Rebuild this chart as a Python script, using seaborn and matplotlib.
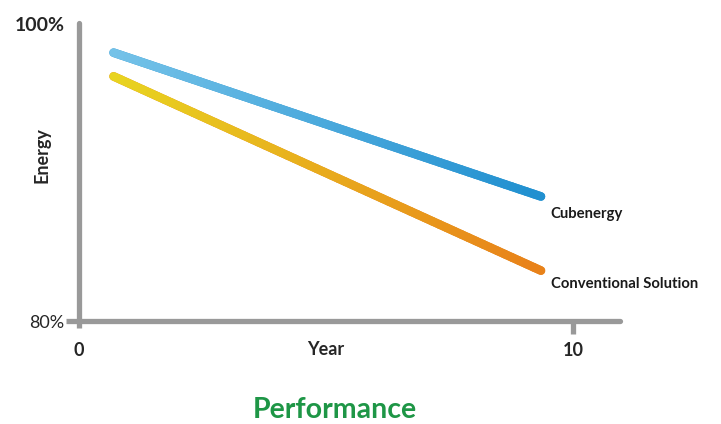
import matplotlib
matplotlib.use('Agg')
import matplotlib.pyplot as plt
import seaborn as sns
import numpy as np
import pandas as pd
from matplotlib.collections import LineCollection
from matplotlib.colors import LinearSegmentedColormap

sns.set_style('white')
plt.rcParams['font.family'] = ['Lato', 'DejaVu Sans']

# data
years = [0.7, 9.35]
cubenergy = [98.1, 88.4]
conventional = [96.5, 83.4]
series_names = ['Cubenergy', 'Conventional Solution']
label_pos = [(9.55, 87.2), (9.55, 82.5)]
x_ticks = [0, 10]
y_ticks = [80, 100]
y_tick_labels = ['80%', '100%']

grad_colors = [('#74c2e8', '#2190d0'), ('#e8d420', '#e8821a')]
axis_grey = '#999999'
line_w = 6.2

df = pd.DataFrame({
    'year': years * 2,
    'energy': cubenergy + conventional,
    'series': [series_names[0]] * 2 + [series_names[1]] * 2,
})

fig = plt.figure(figsize=(7.21, 4.24), dpi=100)
ax = fig.add_axes([79 / 721, 1 - 321 / 424, (620 - 79) / 721, (321 - 23) / 424])

sns.lineplot(data=df, x='year', y='energy', hue='series',
             palette=[c[1] for c in grad_colors], linewidth=line_w,
             legend=False, ax=ax, solid_capstyle='round')

# gradient overlay along each line
for name, (c0, c1) in zip(series_names, grad_colors):
    sub = df[df['series'] == name]
    xs = np.linspace(sub['year'].iloc[0], sub['year'].iloc[1], 60)
    ys = np.linspace(sub['energy'].iloc[0], sub['energy'].iloc[1], 60)
    pts = np.column_stack([xs, ys]).reshape(-1, 1, 2)
    segs = np.concatenate([pts[:-1], pts[1:]], axis=1)
    cmap = LinearSegmentedColormap.from_list(name, [c0, c1])
    lc = LineCollection(segs, cmap=cmap, linewidth=line_w, capstyle='round')
    lc.set_array(np.linspace(0, 1, len(segs)))
    ax.add_collection(lc)

for name, (lx, ly) in zip(series_names, label_pos):
    ax.text(lx, ly, name, fontsize=10.7, fontweight='bold', color='#1a1a1a',
            ha='left', va='center', clip_on=False)

ax.set_xlim(0, 10.95)
ax.set_ylim(80, 100.1)

for side in ['top', 'right']:
    ax.spines[side].set_visible(False)
for side in ['left', 'bottom']:
    ax.spines[side].set_color(axis_grey)
    ax.spines[side].set_linewidth(3.8)
    ax.spines[side].set_capstyle('round')

ax.set_xticks(x_ticks)
ax.set_xticklabels([str(t) for t in x_ticks], fontsize=13, fontweight='bold')
ax.set_yticks(y_ticks)
ax.set_yticklabels(y_tick_labels, fontsize=13)
ax.tick_params(axis='x', bottom=True, length=9, width=3.8, color=axis_grey, pad=6)
ax.tick_params(axis='y', left=True, length=9.5, width=3.8, color=axis_grey, pad=1)
ax.xaxis.get_major_ticks()[0].tick1line.set_markersize(5)
ax.yaxis.get_major_ticks()[1].tick1line.set_visible(False)
ax.get_yticklabels()[1].set_fontweight('bold')
ax.get_yticklabels()[1].set_fontsize(14)

ax.set_xlabel('')
ax.set_ylabel('')
ax.text(5, -0.097, 'Year', transform=ax.get_xaxis_transform(), fontsize=13,
        fontweight='bold', ha='center', va='center')
ax.text(-0.068, 0.557, 'Energy', transform=ax.transAxes, fontsize=13,
        fontweight='bold', rotation=90, ha='center', va='center')

fig.text(335 / 721, 1 - 410 / 424, 'Performance', fontsize=20.5,
         fontweight='bold', color='#1e9646', ha='center', va='center')

fig.savefig('out.png', dpi=100)
